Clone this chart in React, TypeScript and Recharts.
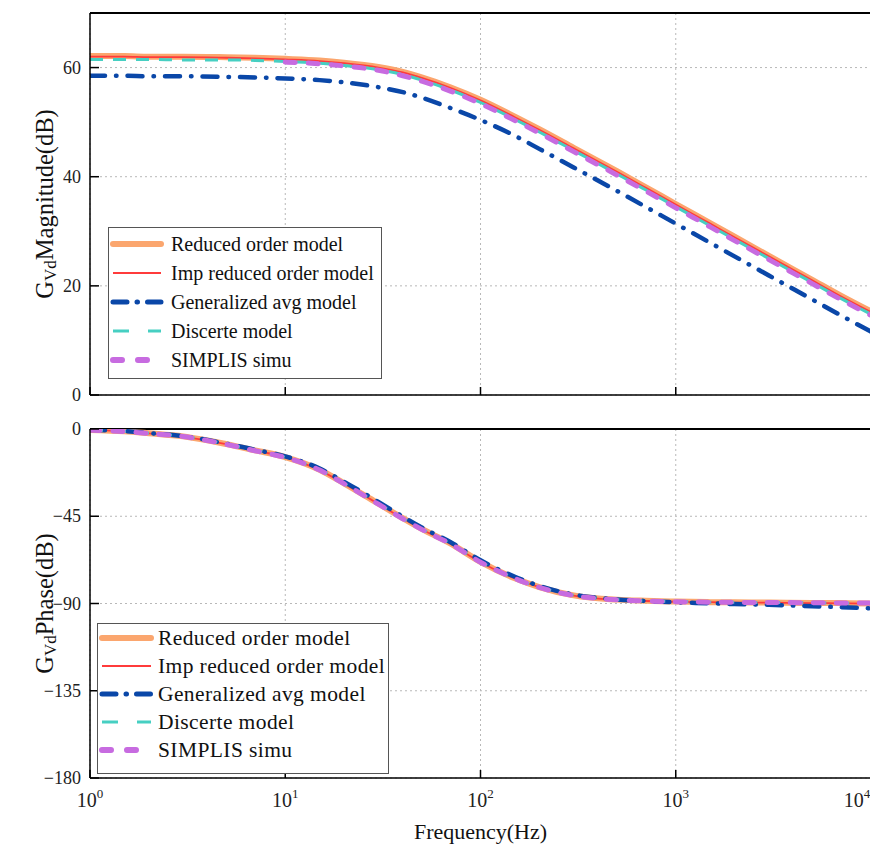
import React from 'react';
import { LineChart, Line, XAxis, YAxis, CartesianGrid, Legend, ReferenceLine } from 'recharts';

const FONT = '"Liberation Serif", "Times New Roman", serif';

// Frequencies (Hz)
const freqs = [1, 1.5, 2, 3, 5, 7, 10, 15, 20, 30, 40, 50, 70, 100, 150, 200, 300, 500, 700, 1000, 1500, 2000, 3000, 5000, 7000, 10000];

// Magnitude (dB)
const magReduced = [62.1, 62.1, 62.0, 62.0, 61.9, 61.8, 61.6, 61.3, 60.9, 60.1, 59.2, 58.2, 56.4, 54.1, 51.0, 48.7, 45.3, 41.0, 38.1, 35.0, 31.5, 29.0, 25.5, 21.1, 18.2, 15.3];
const magImp = [62.0, 62.0, 61.9, 61.9, 61.8, 61.7, 61.5, 61.2, 60.8, 60.0, 59.1, 58.1, 56.3, 54.0, 50.9, 48.6, 45.2, 40.9, 38.0, 34.9, 31.4, 28.9, 25.4, 21.0, 18.1, 15.2];
const magGen = [58.5, 58.5, 58.4, 58.4, 58.3, 58.2, 58.0, 57.7, 57.3, 56.4, 55.5, 54.5, 52.6, 50.4, 47.5, 45.1, 41.7, 37.4, 34.5, 31.4, 27.9, 25.4, 21.9, 17.5, 14.6, 11.6];
const magDisc = [61.5, 61.5, 61.5, 61.4, 61.4, 61.3, 61.1, 60.8, 60.4, 59.6, 58.7, 57.7, 55.9, 53.6, 50.5, 48.2, 44.8, 40.5, 37.6, 34.5, 31.0, 28.5, 25.0, 20.6, 17.7, 14.8];
const magSimplis = [null, null, null, null, null, null, 61.0, 60.7, 60.3, 59.5, 58.5, 57.5, 55.7, 53.4, 50.3, 48.0, 44.6, 40.3, 37.4, 34.3, 30.8, 28.3, 24.8, 20.4, 17.5, 14.6];

// Phase (deg)
const phReduced = [-0.5, -1.2, -2.2, -3.8, -7.8, -11.0, -14.5, -21.0, -28.0, -38.5, -46.0, -51.5, -59.0, -68.5, -77.0, -81.5, -85.8, -88.0, -88.6, -89.0, -89.3, -89.4, -89.5, -89.7, -89.8, -90.0];
const phImp = [-0.5, -1.2, -2.3, -3.9, -7.9, -11.1, -14.6, -21.2, -28.2, -38.7, -46.2, -51.7, -59.2, -68.7, -77.1, -81.6, -85.9, -88.1, -88.7, -89.1, -89.3, -89.5, -89.6, -89.8, -89.9, -90.1];
const phGen = [-0.4, -1.1, -2.1, -3.7, -7.6, -10.7, -14.1, -20.4, -27.2, -37.6, -45.2, -50.8, -58.3, -67.7, -76.2, -80.9, -85.4, -87.9, -88.7, -89.4, -89.9, -90.3, -90.7, -91.4, -91.9, -92.5];
const phDisc = [-0.5, -1.2, -2.2, -3.8, -7.8, -11.0, -14.6, -21.1, -28.1, -38.6, -46.1, -51.6, -59.1, -68.6, -77.0, -81.6, -85.8, -88.0, -88.6, -89.0, -89.3, -89.4, -89.5, -89.7, -89.8, -89.9];
const phSimplis = [-0.6, -1.3, -2.3, -3.9, -7.9, -11.2, -14.7, -21.2, -28.2, -38.8, -46.3, -51.8, -59.2, -68.7, -77.1, -81.7, -85.9, -88.1, -88.7, -89.1, -89.3, -89.4, -89.5, -89.6, -89.7, -89.8];

const xTicks = [1, 10, 100, 1000, 10000];
const magTicks = [0, 20, 40, 60];
const phTicks = [-180, -135, -90, -45, 0];

type SeriesCfg = {
  key: string; name: string; color: string; width: number; dash?: string; cap?: 'round' | 'butt';
  legendDash?: string; legendWidth: number;
};

const SERIES: SeriesCfg[] = [
  { key: 'reduced', name: 'Reduced order model', color: '#FBA66E', width: 6, cap: 'round', legendWidth: 6 },
  { key: 'imp', name: 'Imp reduced order model', color: '#FF3B3B', width: 1.8, legendWidth: 2 },
  { key: 'gen', name: 'Generalized avg model', color: '#0A47A8', width: 4.5, dash: '15 11 0.5 11', cap: 'round', legendDash: '14 10 0.5 10', legendWidth: 5 },
  { key: 'disc', name: 'Discerte model', color: '#46CFC2', width: 3, dash: '13 10', legendDash: '16 19', legendWidth: 3 },
  { key: 'simplis', name: 'SIMPLIS simu', color: '#C76BE0', width: 5, dash: '10 13', cap: 'round', legendDash: '9 16', legendWidth: 6 },
];

const magRows = freqs.map((f, i) => ({
  f, reduced: magReduced[i], imp: magImp[i], gen: magGen[i], disc: magDisc[i], simplis: magSimplis[i],
}));
const phRows = freqs.map((f, i) => ({
  f, reduced: phReduced[i], imp: phImp[i], gen: phGen[i], disc: phDisc[i], simplis: phSimplis[i],
}));

const XTick = (props: any) => {
  const { x, y, payload, showLabel } = props;
  const exp = Math.round(Math.log10(payload.value));
  const lx = exp === 4 ? x - 14 : x;
  return (
    <g>
      <line x1={x} y1={y} x2={x} y2={y - 8} stroke="#000" strokeWidth={1.5} />
      {showLabel && (
        <text x={lx} y={y + 29} textAnchor="middle" fontFamily={FONT} fontSize={20} fill="#222">
          <tspan>10</tspan>
          <tspan dy={-9} fontSize={13}>{exp}</tspan>
        </text>
      )}
    </g>
  );
};

const YTick = (props: any) => {
  const { x, y, payload } = props;
  const v = payload.value;
  const label = v < 0 ? '\u2212' + Math.abs(v) : String(v);
  return (
    <g>
      <line x1={x} y1={y} x2={x + 9} y2={y} stroke="#000" strokeWidth={1.5} />
      <text x={x - 9} y={y} textAnchor="end" dominantBaseline="central" fontFamily={FONT} fontSize={18} fill="#222">{label}</text>
    </g>
  );
};

const YTitle = (props: any) => {
  const vb = props.viewBox || {};
  const cx = 44;
  const cy = (vb.y != null && vb.height != null) ? vb.y + vb.height / 2 : props.fy;
  return (
    <text x={cx} y={cy} transform={`rotate(-90, ${cx}, ${cy})`} textAnchor="middle" dominantBaseline="central"
      fontFamily={FONT} fontSize={24.5} fill="#111">
      <tspan>G</tspan>
      <tspan dy={6} fontSize={17}>Vd</tspan>
      <tspan dy={-6}>{props.text}</tspan>
    </text>
  );
};

const XTitle = (props: any) => {
  const vb = props.viewBox || { x: 90, y: 378, width: 781 };
  return (
    <text x={vb.x + vb.width / 2} y={vb.y + 53} textAnchor="middle" dominantBaseline="central"
      fontFamily={FONT} fontSize={22} fill="#111">Frequency(Hz)</text>
  );
};

const LegendBox = (props: any) => {
  const { w, h, fs, ls, rowH, row0, lx0, lx1, tx } = props;
  return (
    <div style={{ width: w, height: h, border: '1px solid #555', background: '#fff', boxSizing: 'border-box' }}>
      <svg width={w - 2} height={h - 2} style={{ display: 'block' }}>
        {SERIES.map((s, i) => {
          const cy = row0 + i * rowH;
          return (
            <g key={s.key}>
              <line x1={lx0} y1={cy} x2={lx1} y2={cy} stroke={s.color} strokeWidth={s.legendWidth}
                strokeDasharray={s.legendDash} strokeLinecap={s.cap || 'butt'} />
              <text x={tx} y={cy} dominantBaseline="central" fontFamily={FONT} fontSize={fs}
                letterSpacing={ls || 0} fill="#111">{s.name}</text>
            </g>
          );
        })}
      </svg>
    </div>
  );
};

const renderLines = () =>
  SERIES.map((s) => (
    <Line key={s.key} dataKey={s.key} name={s.name} type="monotone" stroke={s.color} strokeWidth={s.width}
      strokeDasharray={s.dash} strokeLinecap={s.cap || 'butt'} strokeLinejoin="round" dot={false}
      activeDot={false} isAnimationActive={false} connectNulls={false} />
  ));

const axisLine = { stroke: '#000', strokeWidth: 1.5 };

export default function App() {
  return (
    <div style={{ position: 'absolute', left: 0, top: 0, width: 870, height: 846, overflow: 'hidden', background: '#fff' }}>
      <div style={{ position: 'absolute', left: 0, top: 0 }}>
        <LineChart width={872} height={412} data={magRows} margin={{ top: 13, right: 1, bottom: 0, left: 0 }}>
          <CartesianGrid stroke="#b8b8b8" strokeDasharray="2 3" />
          <XAxis dataKey="f" type="number" scale="log" domain={[1, 10000]} ticks={xTicks} interval={0}
            allowDataOverflow height={17} tickSize={0} tickMargin={0} tickLine={false}
            tick={<XTick showLabel={false} />} axisLine={axisLine} />
          <YAxis type="number" domain={[0, 70]} ticks={magTicks} interval={0} width={90} tickSize={0}
            tickMargin={0} tickLine={false} tick={<YTick />} axisLine={axisLine} allowDataOverflow
            label={<YTitle text="Magnitude(dB)" fy={204} />} />
          <ReferenceLine y={70} stroke="#000" strokeWidth={2} />
          {renderLines()}
          <Legend layout="vertical" align="center" verticalAlign="middle"
            wrapperStyle={{ left: 108, top: 227, width: 274, height: 152 }}
            content={<LegendBox w={274} h={152} fs={20} rowH={29} row0={16} lx0={4} lx1={52} tx={62} />} />
        </LineChart>
      </div>
      <div style={{ position: 'absolute', left: 0, top: 400 }}>
        <LineChart width={872} height={446} data={phRows} margin={{ top: 29, right: 1, bottom: 0, left: 0 }}>
          <CartesianGrid stroke="#b8b8b8" strokeDasharray="2 3" />
          <XAxis dataKey="f" type="number" scale="log" domain={[1, 10000]} ticks={xTicks} interval={0}
            allowDataOverflow height={68} tickSize={0} tickMargin={0} tickLine={false}
            tick={<XTick showLabel />} axisLine={axisLine} label={<XTitle />} />
          <YAxis type="number" domain={[-180, 0]} ticks={phTicks} interval={0} width={90} tickSize={0}
            tickMargin={0} tickLine={false} tick={<YTick />} axisLine={axisLine} allowDataOverflow
            label={<YTitle text="Phase(dB)" fy={203} />} />
          <ReferenceLine y={0} stroke="#000" strokeWidth={2} />
          {renderLines()}
          <Legend layout="vertical" align="center" verticalAlign="middle"
            wrapperStyle={{ left: 97, top: 223, width: 292, height: 151 }}
            content={<LegendBox w={292} h={151} fs={21.5} ls={0.4} rowH={28} row0={14} lx0={4} lx1={53} tx={60} />} />
        </LineChart>
      </div>
    </div>
  );
}
